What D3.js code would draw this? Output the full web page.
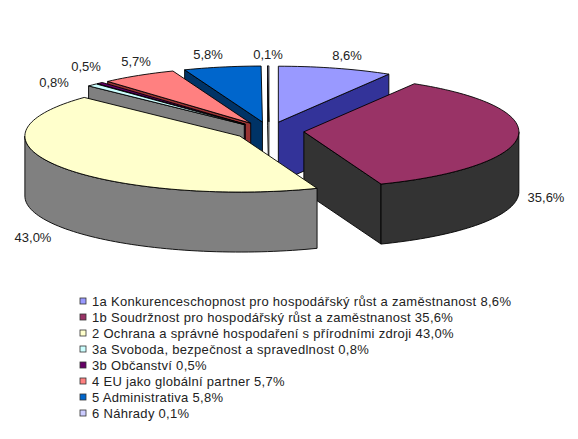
<!DOCTYPE html>
<html><head><meta charset="utf-8">
<script src="https://cdn.jsdelivr.net/npm/d3@7/dist/d3.min.js"></script>
<style>html,body{margin:0;padding:0;background:#fff}svg{display:block}</style></head>
<body><svg id="c" width="578" height="439"></svg>
<script>
const categories = ["1a Konkurenceschopnost pro hospodářský růst a zaměstnanost","1b Soudržnost pro hospodářský růst a zaměstnanost","2 Ochrana a správné hospodaření s přírodními zdroji","3a Svoboda, bezpečnost a spravedlnost","3b Občanství","4 EU jako globální partner","5 Administrativa","6 Náhrady"];
const values = [8.6,35.6,43.0,0.8,0.5,5.7,5.8,0.1];
const valueLabels = ["8,6%","35,6%","43,0%","0,8%","0,5%","5,7%","5,8%","0,1%"];
const topColors = ["#9999FF","#993366","#FFFFCC","#CCFFFF","#660066","#FF8080","#0066CC","#CCCCFF"];
const wallColors = ["#333399","#333333","#808080","#808080","#330033","#993333","#003366","#FFFFFF"];
const paintOrder = [0,6,7,5,4,3,1,2];
const labelAnchors = [[347,60],[546,202],[33,242],[54,87],[86,71],[136,66],[208,59],[268,59]];

const cx=269, cy=131, rx=215, tilt=56/215, depth=60, explode=35;
const svg=d3.select("#c");
const arcs=d3.pie().sort(null).value(v=>v)(values);
const sx=d3.scaleLinear().domain([-1,1]).range([cx-rx,cx+rx]);
const sy=d3.scaleLinear().domain([-1,1]).range([cy-rx*tilt,cy+rx*tilt]);
const line=d3.line();
const unit=a=>[Math.sin(a),-Math.cos(a)];
function pt(d,a,r,z){
  const m=(d.startAngle+d.endAngle)/2,e=explode/rx;
  const [ex,ey]=unit(m),[ux,uy]=unit(a);
  return [sx(ex*e+ux*r),sy(ey*e+uy*r)+z];
}
function arcPts(d,a0,a1,z){
  const n=Math.max(2,Math.ceil((a1-a0)/0.03));
  return d3.range(n+1).map(i=>pt(d,a0+(a1-a0)*i/n,1,z));
}
function draw(points,fill){
  svg.append("path").attr("d",line(points)+"Z").attr("fill",fill)
    .attr("stroke","#000").attr("stroke-width",0.9).attr("stroke-linejoin","round");
}
const PI=Math.PI;
paintOrder.forEach(i=>{
  const d=arcs[i],a0=d.startAngle,a1=d.endAngle,w=wallColors[i];
  const c=pt(d,0,0,0),cb=pt(d,0,0,depth);
  if(a0>=PI) draw([c,pt(d,a0,1,0),pt(d,a0,1,depth),cb],w);
  if(a1<=PI) draw([c,pt(d,a1,1,0),pt(d,a1,1,depth),cb],w);
  const f0=Math.max(a0,PI/2),f1=Math.min(a1,3*PI/2);
  if(f1>f0) draw(arcPts(d,f0,f1,0).concat(arcPts(d,f0,f1,depth).reverse()),w);
  draw([c].concat(arcPts(d,a0,a1,0)),topColors[i]);
});
svg.selectAll("text.v").data(valueLabels).join("text").attr("class","v")
  .attr("x",(d,i)=>labelAnchors[i][0]).attr("y",(d,i)=>labelAnchors[i][1])
  .attr("text-anchor","middle").attr("font-family","'Liberation Sans',Arial,sans-serif")
  .attr("font-size",13).attr("fill","#222").text(d=>d);
const ly=d3.scaleLinear().domain([0,7]).range([301,413]);
const g=svg.selectAll("g.l").data(categories).join("g").attr("class","l")
  .attr("transform",(d,i)=>`translate(0,${ly(i)})`);
g.append("rect").attr("x",80).attr("y",-3).attr("width",6).attr("height",6)
  .attr("fill",(d,i)=>topColors[i]).attr("stroke","#333").attr("stroke-width",0.8);
g.append("text").attr("x",92).attr("y",5).attr("font-family","'Liberation Sans',Arial,sans-serif")
  .attr("font-size",13).attr("letter-spacing",0.3).attr("fill","#222").text((d,i)=>d+" "+valueLabels[i]);
</script></body></html>
